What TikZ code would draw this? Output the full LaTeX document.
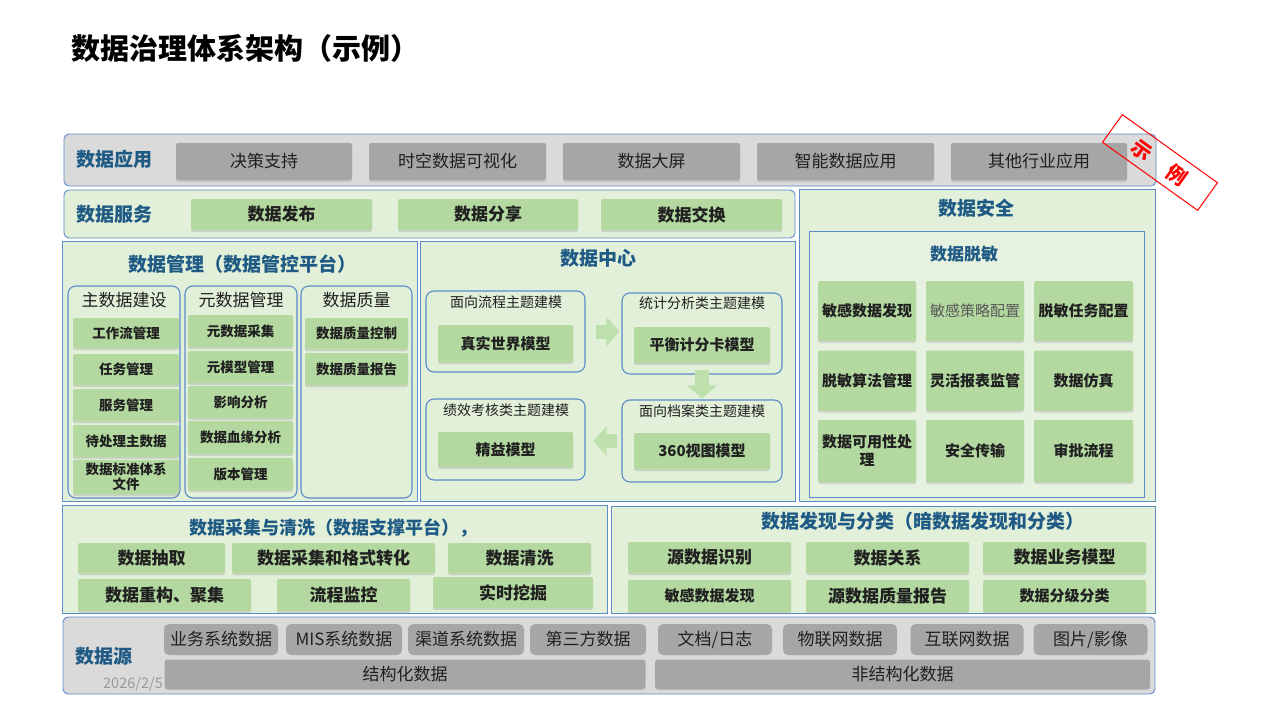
\documentclass[tikz,border=0pt]{standalone}
\usepackage{fontspec}
\setmainfont{Noto Sans CJK SC}
\usepackage{tikz}
\usetikzlibrary{arrows.meta, shadows}
\definecolor{frame}{HTML}{5B8BC8}
\definecolor{headblue}{HTML}{1F5A85}
\definecolor{panelgray}{HTML}{DADADA}
\definecolor{boxgray}{HTML}{A6A6A6}
\definecolor{panelgreen}{HTML}{E2F0D9}
\definecolor{boxgreen}{HTML}{B3D8A0}
\definecolor{flowgreen}{HTML}{BDE0AD}
\definecolor{ink}{HTML}{202020}
\definecolor{dategray}{HTML}{9A9A9A}

\begin{document}
\begin{tikzpicture}[
    x=1pt, y=-1pt,
    panel/.style={rectangle, draw=frame, line width=0.9pt, inner sep=0pt},
    graypanel/.style={panel, fill=panelgray, rounded corners=5pt},
    greenpanel/.style={panel, fill=panelgreen},
    colbox/.style={rectangle, draw=frame, line width=1.1pt, rounded corners=8pt, inner sep=0pt},
    head/.style={text=headblue, font=\fontsize{19}{22}\selectfont\bfseries},
    subhead/.style={text=ink, font=\fontsize{14}{16}\selectfont},
    graybox/.style={rectangle, fill=boxgray, rounded corners=2pt, inner sep=0pt, text=ink,
        font=\fontsize{17}{20}\selectfont, drop shadow={shadow xshift=0pt, shadow yshift=-2pt, opacity=0.25}},
    srcbox/.style={rectangle, fill=boxgray, rounded corners=5pt, inner sep=0pt, text=ink,
        font=\fontsize{17}{20}\selectfont},
    greenbox/.style={rectangle, fill=boxgreen, rounded corners=2pt, inner sep=0pt, align=center, text=ink,
        drop shadow={shadow xshift=0pt, shadow yshift=-2pt, opacity=0.25}},
    txtL/.style={font=\fontsize{17}{20}\selectfont\bfseries},
    txtM/.style={font=\fontsize{15}{18}\selectfont\bfseries},
    txtS/.style={font=\fontsize{13.5}{16}\selectfont\bfseries},
    flow/.style={line width=14pt, flowgreen, -{Triangle[width=29pt, length=13pt]}}
]
    \useasboundingbox (0,0) rectangle (1280,720);

    % Title
    \node[anchor=west, text=black, font=\fontsize{29}{34}\selectfont\bfseries] (title) at (68,48) {数据治理体系架构（示例）};

    % Data application
    \node[graypanel, minimum width=1092pt, minimum height=52pt] (app) at (610,160) {};
    \node[head] (appT) at (114,159) {数据应用};
    \node[graybox, minimum width=176pt, minimum height=37pt] (app1) at (264,161.5) {决策支持};
    \node[graybox, minimum width=177pt, minimum height=37pt] (app2) at (457.5,161.5) {时空数据可视化};
    \node[graybox, minimum width=177pt, minimum height=37pt] (app3) at (651.5,161.5) {数据大屏};
    \node[graybox, minimum width=177pt, minimum height=37pt] (app4) at (845.5,161.5) {智能数据应用};
    \node[graybox, minimum width=176pt, minimum height=37pt] (app5) at (1039,161.5) {其他行业应用};

    % Data service
    \node[greenpanel, rounded corners=5pt, minimum width=731pt, minimum height=48pt] (svc) at (429.5,214) {};
    \node[head] (svcT) at (114,214) {数据服务};
    \node[greenbox, txtL, minimum width=181pt, minimum height=31pt] (svc1) at (281.5,214.5) {数据发布};
    \node[greenbox, txtL, minimum width=180pt, minimum height=31pt] (svc2) at (488,214.5) {数据分享};
    \node[greenbox, txtL, minimum width=181pt, minimum height=31pt] (svc3) at (691.5,214.5) {数据交换};

    % Data security
    \node[greenpanel, minimum width=356pt, minimum height=312pt] (sec) at (977,345) {};
    \node[head] (secT) at (976,208) {数据安全};
    \node[panel, fill=panelgreen!85!white, minimum width=335pt, minimum height=266pt] (mask) at (976.5,364) {};
    \node[head, font=\fontsize{17}{20}\selectfont\bfseries] (maskT) at (964,254) {数据脱敏};
    \node[greenbox, txtM, minimum width=98pt, minimum height=60pt] (m11) at (867,311) {敏感数据发现};
    \node[greenbox, minimum width=98pt, minimum height=60pt, text=black!65, font=\fontsize{15}{18}\selectfont] (m12) at (975,311) {敏感策略配置};
    \node[greenbox, txtM, minimum width=99pt, minimum height=60pt] (m13) at (1083.5,311) {脱敏任务配置};
    \node[greenbox, txtM, minimum width=98pt, minimum height=60pt] (m21) at (867,380.5) {脱敏算法管理};
    \node[greenbox, txtM, minimum width=98pt, minimum height=60pt] (m22) at (975,380.5) {灵活报表监管};
    \node[greenbox, txtM, minimum width=99pt, minimum height=60pt] (m23) at (1083.5,380.5) {数据仿真};
    \node[greenbox, txtM, minimum width=98pt, minimum height=62pt] (m31) at (867,451) {数据可用性处\\理};
    \node[greenbox, txtM, minimum width=98pt, minimum height=62pt] (m32) at (975,451) {安全传输};
    \node[greenbox, txtM, minimum width=99pt, minimum height=62pt] (m33) at (1083.5,451) {审批流程};

    % Data management
    \node[greenpanel, minimum width=355pt, minimum height=260pt] (mgmt) at (239.5,371) {};
    \node[head] (mgmtT) at (242,264) {数据管理（数据管控平台）};
    \node[colbox, minimum width=112pt, minimum height=212pt] (mdm) at (124,392) {};
    \node[colbox, minimum width=112pt, minimum height=212pt] (meta) at (241,392) {};
    \node[colbox, minimum width=111pt, minimum height=212pt] (dq) at (356.5,392) {};
    \node[text=ink, font=\fontsize{17}{20}\selectfont] (mdmT) at (124,300) {主数据建设};
    \node[text=ink, font=\fontsize{17}{20}\selectfont] (metaT) at (241,300) {元数据管理};
    \node[text=ink, font=\fontsize{17}{20}\selectfont] (dqT) at (356.5,300) {数据质量};
    \node[greenbox, txtS, minimum width=106pt, minimum height=30pt] (mdm1) at (126,333) {工作流管理};
    \node[greenbox, txtS, minimum width=106pt, minimum height=31pt] (mdm2) at (126,369.5) {任务管理};
    \node[greenbox, txtS, minimum width=106pt, minimum height=32pt] (mdm3) at (126,405) {服务管理};
    \node[greenbox, txtS, minimum width=106pt, minimum height=32pt] (mdm4) at (126,441) {待处理主数据};
    \node[greenbox, txtS, minimum width=106pt, minimum height=34pt, font=\fontsize{13.5}{15}\selectfont\bfseries] (mdm5) at (126,477) {数据标准体系\\文件};
    \node[greenbox, txtS, minimum width=105pt, minimum height=32pt] (meta1) at (240.5,331) {元数据采集};
    \node[greenbox, txtS, minimum width=105pt, minimum height=32pt] (meta2) at (240.5,367) {元模型管理};
    \node[greenbox, txtS, minimum width=105pt, minimum height=32pt] (meta3) at (240.5,402) {影响分析};
    \node[greenbox, txtS, minimum width=105pt, minimum height=33pt] (meta4) at (240.5,437.5) {数据血缘分析};
    \node[greenbox, txtS, minimum width=105pt, minimum height=32pt] (meta5) at (240.5,474) {版本管理};
    \node[greenbox, txtS, minimum width=103pt, minimum height=31pt] (dq1) at (356.5,333.5) {数据质量控制};
    \node[greenbox, txtS, minimum width=103pt, minimum height=32pt] (dq2) at (356.5,369) {数据质量报告};

    % Data center
    \node[greenpanel, minimum width=375pt, minimum height=260pt] (dc) at (607.5,371) {};
    \node[head] (dcT) at (598,258) {数据中心};
    \node[colbox, minimum width=159pt, minimum height=81pt] (proc) at (505.5,331.5) {};
    \node[colbox, minimum width=160pt, minimum height=81pt] (stat) at (702,333.5) {};
    \node[colbox, minimum width=159pt, minimum height=81pt] (perf) at (505.5,439.5) {};
    \node[colbox, minimum width=160pt, minimum height=82pt] (arch) at (702,441) {};
    \node[subhead] (procT) at (506,302) {面向流程主题建模};
    \node[subhead] (statT) at (702,303) {统计分析类主题建模};
    \node[subhead] (perfT) at (506,410) {绩效考核类主题建模};
    \node[subhead] (archT) at (702,411) {面向档案类主题建模};
    \node[greenbox, txtM, minimum width=135pt, minimum height=37pt] (proc1) at (505.5,343.5) {真实世界模型};
    \node[greenbox, txtM, minimum width=136pt, minimum height=36pt] (stat1) at (702,345) {平衡计分卡模型};
    \node[greenbox, txtM, minimum width=135pt, minimum height=35pt] (perf1) at (505.5,449.5) {精益模型};
    \node[greenbox, txtM, minimum width=136pt, minimum height=36pt] (arch1) at (702,451) {360视图模型};
    \draw[flow, shorten <=10pt, shorten >=2pt] (proc.east) -- (stat.west |- proc.east);
    \draw[flow, shorten <=-5pt, shorten >=1pt] (stat.south) -- (arch.north);
    \draw[flow, shorten <=4pt, shorten >=8pt] (arch.west) -- (perf.east |- arch.west);

    % Data collection and cleansing
    \node[greenpanel, minimum width=545pt, minimum height=108pt] (coll) at (334.5,559) {};
    \node[head, font=\fontsize{18}{21}\selectfont\bfseries] (collT) at (333,528) {数据采集与清洗（数据支撑平台），};
    \node[greenbox, txtL, minimum width=147pt, minimum height=30pt] (coll1) at (151.5,558) {数据抽取};
    \node[greenbox, txtL, minimum width=203pt, minimum height=30pt] (coll2) at (333.5,558) {数据采集和格式转化};
    \node[greenbox, txtL, minimum width=143pt, minimum height=30pt] (coll3) at (519.5,558) {数据清洗};
    \node[greenbox, txtL, minimum width=173pt, minimum height=32pt] (coll4) at (164.5,595) {数据重构、聚集};
    \node[greenbox, txtL, minimum width=133pt, minimum height=32pt] (coll5) at (343.5,595) {流程监控};
    \node[greenbox, txtL, minimum width=160pt, minimum height=31pt] (coll6) at (513,592.5) {实时挖掘};

    % Data discovery and classification
    \node[greenpanel, minimum width=544pt, minimum height=107pt] (disc) at (883,559.5) {};
    \node[head] (discT) at (923,521) {数据发现与分类（暗数据发现和分类）};
    \node[greenbox, txtL, minimum width=163pt, minimum height=31pt] (disc1) at (709.5,557.5) {源数据识别};
    \node[greenbox, txtL, minimum width=163pt, minimum height=31pt] (disc2) at (887.5,557.5) {数据关系};
    \node[greenbox, txtL, minimum width=163pt, minimum height=31pt] (disc3) at (1064.5,557.5) {数据业务模型};
    \node[greenbox, txtM, minimum width=163pt, minimum height=32pt] (disc4) at (709.5,596) {敏感数据发现};
    \node[greenbox, txtL, minimum width=163pt, minimum height=32pt] (disc5) at (887.5,596) {源数据质量报告};
    \node[greenbox, txtM, minimum width=163pt, minimum height=32pt] (disc6) at (1064.5,596) {数据分级分类};

    % Data source
    \node[graypanel, minimum width=1092pt, minimum height=77pt] (src) at (609,655.5) {};
    \node[head] (srcT) at (104,656) {数据源};
    \node[text=dategray, font=\fontsize{14.5}{17}\selectfont] (date) at (133,684) {2026/2/5};
    \node[srcbox, minimum width=114pt, minimum height=31pt] (src1) at (221,639.5) {业务系统数据};
    \node[srcbox, minimum width=116pt, minimum height=31pt] (src2) at (344,639.5) {MIS系统数据};
    \node[srcbox, minimum width=116pt, minimum height=31pt] (src3) at (466,639.5) {渠道系统数据};
    \node[srcbox, minimum width=116pt, minimum height=31pt] (src4) at (588,639.5) {第三方数据};
    \node[srcbox, minimum width=114pt, minimum height=31pt] (src5) at (715,639.5) {文档/日志};
    \node[srcbox, minimum width=114pt, minimum height=31pt] (src6) at (840,639.5) {物联网数据};
    \node[srcbox, minimum width=113pt, minimum height=31pt] (src7) at (967,639.5) {互联网数据};
    \node[srcbox, minimum width=114pt, minimum height=31pt] (src8) at (1090.5,639.5) {图片/影像};
    \node[srcbox, rounded corners=3pt, minimum width=481pt, minimum height=30pt] (struct) at (405,674.5) {结构化数据};
    \node[srcbox, rounded corners=3pt, minimum width=495pt, minimum height=30pt] (unstruct) at (902.5,674.5) {非结构化数据};

    % Stamp
    \node[draw=red, line width=1pt, rotate=-35.6, inner sep=0pt, minimum width=117pt, minimum height=34pt,
        text=red, font=\fontsize{20}{24}\selectfont\bfseries] (stamp) at (1160,162.5) {示\hspace{23pt}例};
\end{tikzpicture}
\end{document}
